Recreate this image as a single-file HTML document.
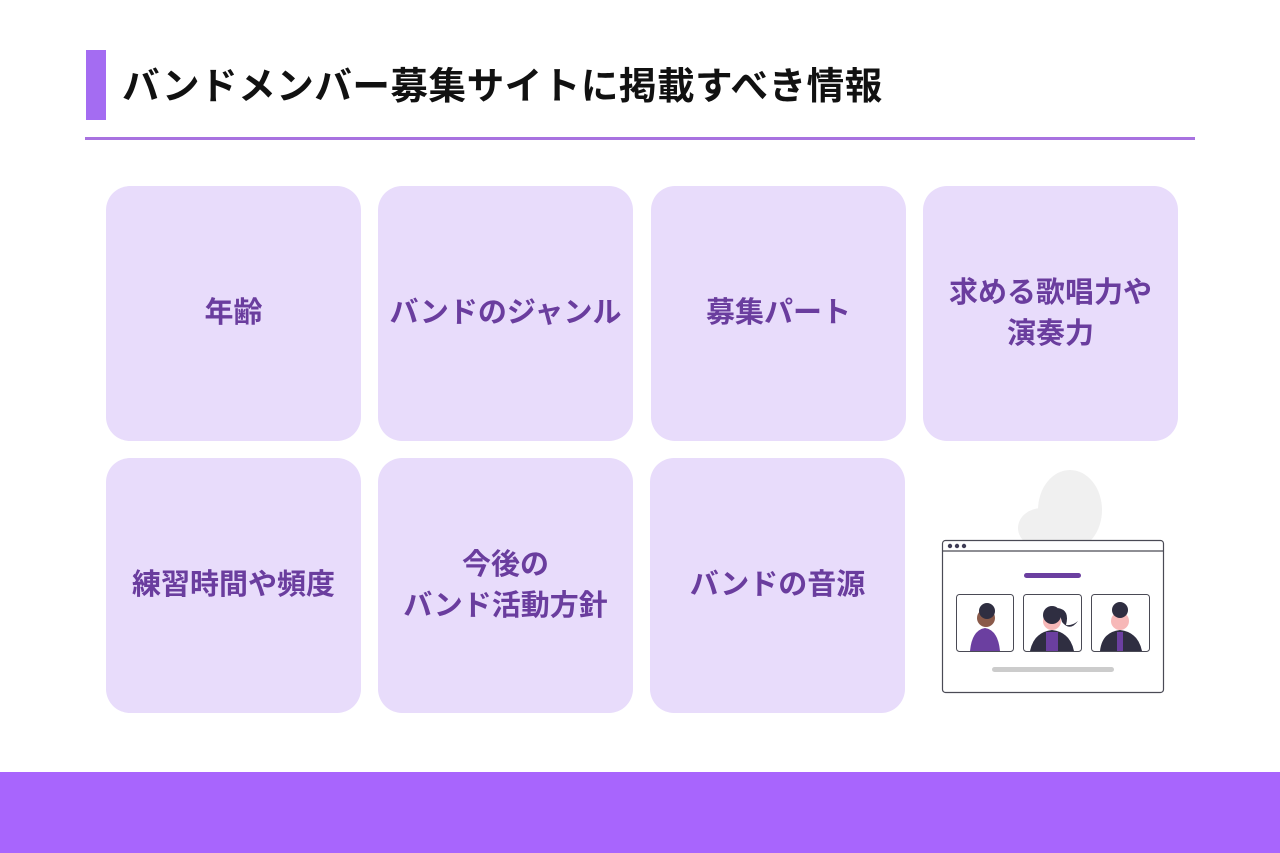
<!DOCTYPE html>
<html><head><meta charset="utf-8"><style>
body{margin:0;width:1280px;height:853px;background:#fff;position:relative;overflow:hidden;font-family:"Liberation Sans","Noto Sans CJK JP",sans-serif}
.bar{position:absolute;left:86px;top:50px;width:20px;height:70px;background:#a46cf2}
.title{position:absolute;left:122px;top:62px;font-size:37.6px;font-weight:bold;color:#111;line-height:48px;letter-spacing:0.5px}
.line{position:absolute;left:85px;top:137px;width:1110px;height:3px;background:#a872e0}
.card{position:absolute;width:255px;height:255px;border-radius:24px;background:#e8dcfb;display:flex;align-items:center;justify-content:center;text-align:center;color:#6a3d9e;font-weight:bold;font-size:29px;line-height:41px}
.foot{position:absolute;left:0;top:772px;width:1280px;height:81px;background:#a865fd}
</style></head><body>
<div class="bar"></div>
<div class="title">バンドメンバー募集サイトに掲載すべき情報</div>
<div class="line"></div>
<div class="card" style="left:106px;top:186px">年齢</div>
<div class="card" style="left:378px;top:186px">バンドのジャンル</div>
<div class="card" style="left:651px;top:186px">募集パート</div>
<div class="card" style="left:923px;top:186px">求める歌唱力や<br>演奏力</div>
<div class="card" style="left:106px;top:458px">練習時間や頻度</div>
<div class="card" style="left:378px;top:458px">今後の<br>バンド活動方針</div>
<div class="card" style="left:650px;top:458px">バンドの音源</div>
<svg style="position:absolute;left:930px;top:470px" width="250" height="230" viewBox="0 0 250 230">
<ellipse cx="140" cy="40" rx="32" ry="40" fill="#f0f0f0"/>
<ellipse cx="112" cy="58" rx="24" ry="20" fill="#f0f0f0"/>
<rect x="12.5" y="70.5" width="221" height="152" rx="3" fill="#fff" stroke="#4a4a55" stroke-width="1.2"/>
<line x1="12" y1="81" x2="233" y2="81" stroke="#4a4a55" stroke-width="1.2"/>
<circle cx="20" cy="76" r="2.2" fill="#3f3d56"/><circle cx="27" cy="76" r="2.2" fill="#3f3d56"/><circle cx="34" cy="76" r="2.2" fill="#3f3d56"/>
<rect x="94" y="103" width="57" height="5" rx="2.5" fill="#6b3fa0"/>
<rect x="62" y="197" width="122" height="5" rx="2.5" fill="#ccc"/>
<g stroke="#4a4a55" stroke-width="1" fill="#fff">
<rect x="26.5" y="124.5" width="57" height="57" rx="3"/><rect x="93.5" y="124.5" width="58" height="57" rx="3"/><rect x="161.5" y="124.5" width="58" height="57" rx="3"/></g>
<path d="M40 181 Q42 160 55 158 Q68 160 70 181Z" fill="#6b3fa0"/><circle cx="56" cy="148" r="9" fill="#8a5a4a"/><circle cx="57" cy="141" r="8" fill="#2f2e41"/>
<path d="M100 181 Q104 162 122 160 Q140 162 144 181Z" fill="#2f2e41"/><rect x="116" y="162" width="12" height="19" fill="#6b3fa0"/><circle cx="122" cy="151" r="9" fill="#f7b8b8"/><circle cx="122" cy="145" r="9" fill="#2f2e41"/><path d="M128 138 Q140 140 136 155 Q142 156 148 151 Q140 162 132 152Z" fill="#2f2e41"/>
<path d="M170 181 Q172 162 190 160 Q208 162 212 181Z" fill="#2f2e41"/><rect x="187" y="162" width="6" height="19" fill="#6b3fa0"/><circle cx="190" cy="151" r="9" fill="#f7b8b8"/><circle cx="190" cy="140" r="8" fill="#2f2e41"/>
</svg>
<div class="foot"></div>
</body></html>
